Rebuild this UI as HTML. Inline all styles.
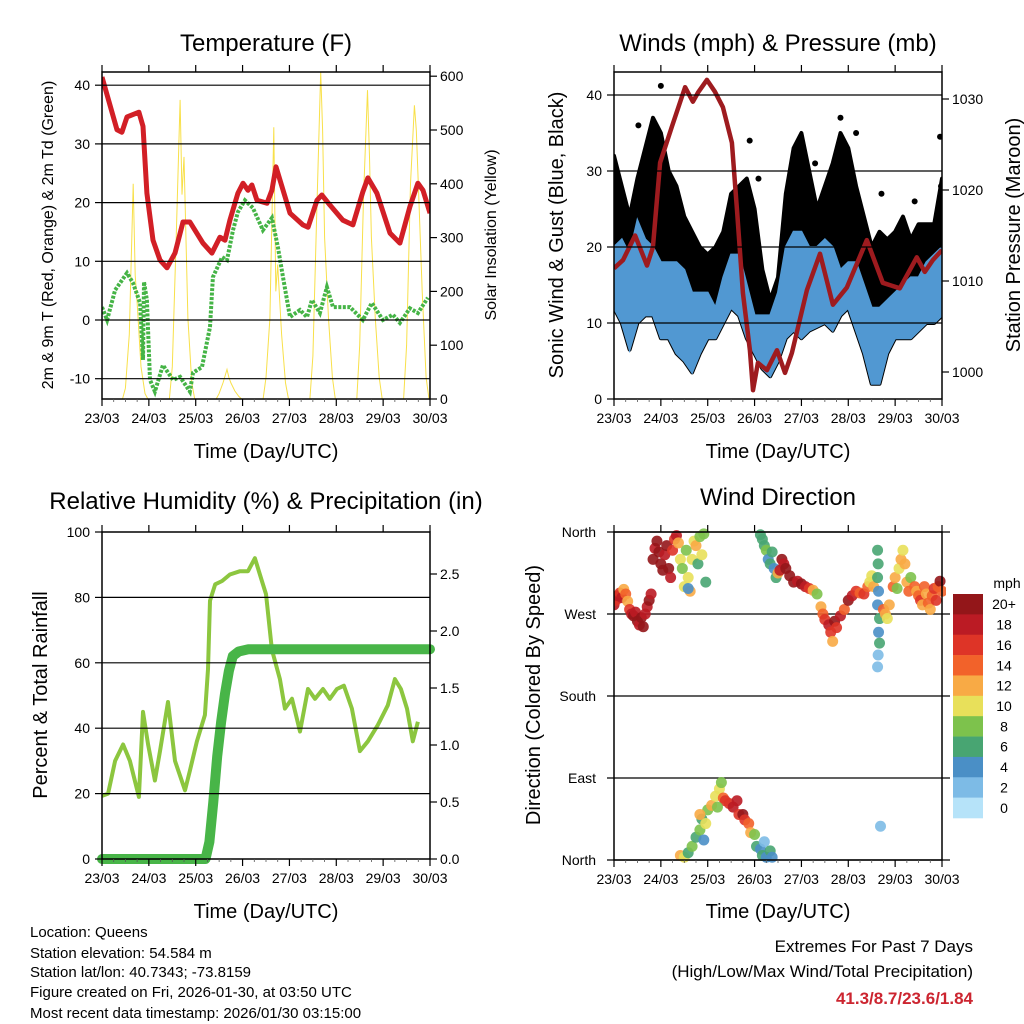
<!DOCTYPE html>
<html><head><meta charset="utf-8">
<style>
html,body{margin:0;padding:0;background:#fff;}
svg{display:block;font-family:"Liberation Sans",sans-serif;}
</style></head>
<body>
<svg id="chart" width="1024" height="1024" viewBox="0 0 1024 1024" xmlns="http://www.w3.org/2000/svg">
<rect width="1024" height="1024" fill="#fff"/>
<defs>
<clipPath id="c1"><rect x="102" y="72" width="328" height="327"/></clipPath>
<clipPath id="c2"><rect x="614" y="72" width="328" height="327"/></clipPath>
<clipPath id="c3"><rect x="102" y="532" width="328" height="327"/></clipPath>
<clipPath id="c4"><rect x="614" y="528" width="332" height="336"/></clipPath>
</defs>
<g id="g1"></g>
<g id="g2"></g>
<g id="g3"></g>
<g id="g4"></g>

<text x="266" y="51" font-size="24" text-anchor="middle">Temperature (F)</text>
<text x="778" y="51" font-size="24" text-anchor="middle">Winds (mph) &amp; Pressure (mb)</text>
<text x="266" y="509" font-size="24" text-anchor="middle">Relative Humidity (%) &amp; Precipitation (in)</text>
<text x="778" y="505" font-size="24" text-anchor="middle">Wind Direction</text>

<text x="266" y="458" font-size="20" text-anchor="middle">Time (Day/UTC)</text>
<text x="778" y="458" font-size="20" text-anchor="middle">Time (Day/UTC)</text>
<text x="266" y="918" font-size="20" text-anchor="middle">Time (Day/UTC)</text>
<text x="778" y="918" font-size="20" text-anchor="middle">Time (Day/UTC)</text>

<text transform="translate(53,235) rotate(-90)" font-size="16" text-anchor="middle">2m &amp; 9m T (Red, Orange) &amp; 2m Td (Green)</text>
<text transform="translate(496,235) rotate(-90)" font-size="16" text-anchor="middle">Solar Insolation (Yellow)</text>
<text transform="translate(563,235) rotate(-90)" font-size="20" text-anchor="middle">Sonic Wind &amp; Gust (Blue, Black)</text>
<text transform="translate(1020,235) rotate(-90)" font-size="20" text-anchor="middle">Station Pressure (Maroon)</text>
<text transform="translate(47,695) rotate(-90)" font-size="20" text-anchor="middle">Percent &amp; Total Rainfall</text>
<text transform="translate(540,695) rotate(-90)" font-size="20" text-anchor="middle">Direction (Colored By Speed)</text>

<g font-size="15">
<text x="30" y="937">Location: Queens</text>
<text x="30" y="958">Station elevation: 54.584 m</text>
<text x="30" y="977">Station lat/lon: 40.7343; -73.8159</text>
<text x="30" y="997">Figure created on Fri, 2026-01-30, at 03:50 UTC</text>
<text x="30" y="1018">Most recent data timestamp: 2026/01/30 03:15:00</text>
</g>
<g>
<text x="973" y="952" font-size="17" text-anchor="end">Extremes For Past 7 Days</text>
<text x="973" y="977" font-size="17" text-anchor="end">(High/Low/Max Wind/Total Precipitation)</text>
<text x="973" y="1004" font-size="17" font-weight="bold" fill="#cc2530" text-anchor="end">41.3/8.7/23.6/1.84</text>
</g>
</svg>
<script>
// ---------- data ----------
const dayLabels = ["23/03","24/03","25/03","26/03","27/03","28/03","29/03","30/03"];
const tempTicks = [40,30,20,10,0,-10];
const solarTicks = [600,500,400,300,200,100,0];
const windTicks = [40,30,20,10,0];
const presTicks = [1030,1020,1010,1000];
const rhTicks = [100,80,60,40,20,0];
const rainTicks = ["2.5","2.0","1.5","1.0","0.5","0.0"];
const dirTickLabels = ["North","West","South","East","North"];
const dirTickValues = [360,270,180,90,0];

const tempTimes = [0,7.7,10.2,12.8,18.9,21,23,26.1,29.7,33.3,37.4,41.5,45,51.7,56.3,60.4,63,65.5,69.6,72.2,74.8,76.8,79.4,84.5,87,89.1,96.3,102.9,105.5,110.1,112.6,116.7,123.4,128.5,133.6,136.2,140.8,147.5,152.6,157.7,161.8,164.4,168];
const tempRed = [41.4,32.4,32,34.6,35.4,33,21.6,13.6,10.2,8.9,11.4,16.7,16.7,13.1,11.4,14.1,13.6,17,21.6,23.3,22.1,23,20.4,19.9,22.1,26.1,18.2,16.2,15.8,20.4,21.3,19.6,17,16.2,21.8,24.2,21.6,14.8,13.1,19.3,23.3,22.1,18.2];

const dewTimes = [0,2.6,6.7,12.8,15.9,19.5,21,21.5,23,24.6,27.1,31.2,36.4,40,45,46.6,51.2,55.3,56.8,61.5,64,67.1,69.6,73.2,77.3,82.4,87,90.1,92.7,96.3,101.4,105,107.5,111.6,115.2,118.3,127,133.6,138.2,143.9,149,152.6,157.7,161.8,166.9];
const dewGreen = [2.2,0,5.1,8,6.3,2.9,-6.8,6.5,3.4,-10.2,-12.2,-7.7,-10.2,-9.7,-12.2,-9,-8,-1.2,7.3,10.7,10.2,15.3,18.4,20.4,19.1,15.3,17.4,12.4,7.3,0.5,1.7,0.5,3.4,1.2,5.6,2.2,2.2,0,2.9,0,0.9,-0.5,2,1.2,3.8];

const solarHours = [10.5,12,14,16,17,18,20,22,23.5];
const solarDay0 = [0,20,120,400,230,180,60,10,0];
const solarDay1 = [0,60,300,556,380,450,150,30,0];
const solarDay2 = [0,10,30,55,40,30,15,5,0];
const solarDay3 = [0,40,150,505,200,250,120,30,0];
const solarDay4 = [0,80,350,608,500,300,150,40,0];
const solarDay5 = [0,100,380,574,450,300,150,40,0];
const solarDay6 = [0,100,400,546,500,400,200,40,0];

const presTimes = [0,4.6,10.8,16.9,19.9,23.6,29.7,36.4,40.4,43,47.6,51.7,55.8,60.4,63,66,69.6,71.2,73.7,78.3,83.5,87.6,91.1,98.8,105.5,112.1,119.3,129.5,137.7,146.4,155.1,159.2,163.3,168];
const pressure = [1011.4,1012.3,1015,1011.7,1013.7,1023,1027,1031.3,1029.7,1030.7,1032.1,1030.8,1029.1,1025.2,1017.8,1008.7,1002.4,998,1001,1000.2,1002.4,999.9,1002.1,1009,1013,1007.4,1009.3,1014.5,1009.8,1009.2,1012.6,1011,1012.3,1013.4];

const windTimes = [0,4,8,12,16,20,24,28,32,36,40,44,48,52,56,60,64,68,72,76,80,84,88,92,96,100,104,108,112,116,120,124,128,132,136,140,144,148,152,156,160,164,168];
const sonicHigh = [20,21,19,23.5,21,20,18,18,18,17,14,14,14,12,16,19,19,15,11,11,11,14,20,22,22,20,20,21,20,17,18,18,15,12,12,13,14,15,16,16,18,19,20];
const sonicLow = [12,10,6.5,10,11,11,8,8,6,5,3.5,6,8,8,10,12,11,8,6,4,3,5,8,9,8,9,9.5,10,9,11,12,9,6,2,2,6,8,8,8,9,10,10,11];
const gustHigh = [32,28,24,29,33,37,35,30,28,24,22,20,19,20,22,27,28,29,25,17,13,16,27,33,35,30,25,28,31,35,33,28,24,20,22,21,22,24,21,23,23,23,29];
const gustOutTimes = [12.5,24,69.5,74,96,103,116,124,137,154,167,167.5];
const gustOutValues = [36,41.2,34,29,33,31,37,35,27,26,34.5,28];

const rhTimes = [0,3.1,6.7,10.8,14.3,18.9,21,23.6,27.1,29.7,33.8,37.4,42.5,45,48.6,52.7,54.3,55.3,58,61.5,65.5,70.7,74.8,78.3,81.9,84,87,91.1,93.7,97.3,101.4,105.5,109.1,113.2,116.7,120.3,123.9,128,132.1,136.2,141.3,146.4,150,153.1,156.2,159.2,161.8];
const rhValues = [19.3,20,30,35,30,19,45,35,24,33,48,30,21,27,36,44,58,79,84,85,87,88,88,92,85,81,64,55,46,49,39,52,49,52,49,52,53,46,33,36,41,47,55,52,46,36,42];
const rainTimes = [0,53,55,57,59,61,63,65,67,70,75,168];
const rainValues = [0,0,0.15,0.5,0.9,1.2,1.45,1.65,1.78,1.82,1.84,1.84];

const dirTimes  = [0,1,2,3,4,5,6,7, 8,9,10,11,12,13,14,15,16,17,18,19, 20,21,22,23,24,25,26,27,28,29,30,31,32,33, 34,35,36,37,38,39,40,41,42,43,44,45,46,47,38,
 34,36,38,40,42,44,45,47,48,50,52,54,55,56,57,59,61,63,64,66,67,69,70,72,73,75,76,77,78,80,81,53,46,44,
 75,76,77,78,79,80,81,82,83,84,85,86,87, 88,90,92,94,96,98,100,102,104, 106,107,108,110,111,112,113,114,116,118, 120,122,124,126,128,130, 131,132,133,
 135,135.3,135,135.5,135,136,135.5,136,135.3,135,136.5, 138,139,140,141, 143,144,145,146,147,148,149,150,151,152,
 154,155,156,157,158,159,160,161,162,163,164,165,166,167,168];
const dirValues = [280,285,290,293,288,297,292,284, 275,270,268,272,262,258,266,256,270,278,285,292, 330,342,350,338,325,318,335,345,320,310,340,352,356,348, 330,320,300,340,310,295,330,350,345,325,355,335,358,305,298,
 5,3,8,15,25,33,45,40,55,60,70,78,85,68,65,62,58,65,50,50,44,40,30,28,15,12,5,20,3,10,3,58,22,50,
 357,352,345,340,330,325,338,320,310,315,318,330,325, 320,312,305,306,303,300,298,296,292, 278,270,264,258,250,240,262,255,268,275, 285,290,295,293,292,300, 305,312,300,
 340,325,310,295,280,265,250,238,225,212,37, 275,270,265,280, 300,310,298,320,330,340,325,305,295,310,
 300,295,290,285,280,300,292,282,275,290,298,285,300,306,295];
const dirSpeeds = [18,17,19,16,18,13,15,12, 17,19,20,18,20,19,21,20,18,19,20,18, 20,19,21,20,21,20,18,20,21,19,17,16,18,13, 10,9,11,8,10,12,11,10,12,7,9,10,8,6,4,
 13,10,7,9,6,8,7,11,9,13,10,11,9,14,17,16,18,19,17,20,16,14,13,8,7,4,6,3,5,7,4,8,5,12,
 7,6,7,8,5,6,7,4,7,12,18,20,19, 20,21,20,19,20,18,16,12,8, 13,15,16,19,17,12,20,16,18,15, 20,19,17,14,16,15, 11,10,13,
 6,7,6,4,5,6,4,6,2,2,3, 14,12,11,13, 15,12,8,11,12,10,13,12,14,8,
 14,13,15,16,12,14,13,15,12,14,16,17,15,20,14];
const speedBinLabels = ["20+","18","16","14","12","10","8","6","4","2","0"];
const speedColors = ["#931619","#bb1b24","#de3427","#f2622a","#f8aa45","#e8e05a","#7dc24c","#48a572","#4a8fc6","#7dbbe6","#b6e3f9"];

// ---------- helpers ----------
const NS = "http://www.w3.org/2000/svg";
function el(tag, parent){ const e = document.createElementNS(NS, tag); parent.appendChild(e); return e; }
function line(parent,x1,y1,x2,y2,w,c){ const e=el('line',parent); e.setAttribute('x1',x1);e.setAttribute('y1',y1);e.setAttribute('x2',x2);e.setAttribute('y2',y2);e.setAttribute('stroke',c||'#000');e.setAttribute('stroke-width',w||1); return e; }
function txt(parent,x,y,s,anchor,size){ const e=el('text',parent); e.setAttribute('x',x);e.setAttribute('y',y);e.setAttribute('font-size',size||14);e.setAttribute('text-anchor',anchor||'middle'); e.textContent=s; return e; }
function polyPts(xs, ys, fx, fy){ return xs.map((t,i)=>fx(t).toFixed(1)+','+fy(ys[i]).toFixed(1)).join(' '); }

function frame(g, P, name){
  const r = el('rect', g);
  r.setAttribute('x',P.x0); r.setAttribute('y',P.y0); r.setAttribute('width',P.x1-P.x0); r.setAttribute('height',P.y1-P.y0);
  r.setAttribute('fill','none'); r.setAttribute('stroke','#000'); r.setAttribute('stroke-width','1.5');
  
  
  for(let d=0; d<8; d++){
    const x = P.x0 + d*(P.x1-P.x0)/7;
    const t1 = line(g,x,P.y1,x,P.y1+7,1.2);
    
    
    const t2 = line(g,x,P.y0,x,P.y0-7,1.2);
    
    
    if(d<7) for(let k=1;k<4;k++){ const xm=x+k*(P.x1-P.x0)/28; line(g,xm,P.y1,xm,P.y1+3,0.8,'#555'); }
    const lb = txt(g,x,P.y1+24,dayLabels[d],'middle',14);
    
    
  }
}
function leftTicks(g,P,vals,labels,fy,grid){
  vals.forEach((v,i)=>{
    const y=fy(v);
    const t=line(g,P.x0-7,y,P.x0,y,1.2);
    
    
    if(grid && y>P.y0+1 && y<P.y1-1){ const gl=line(g,P.x0,y,P.x1,y,1.2);
      
       }
    const lb=txt(g,P.x0-12,y+5,labels[i],'end',14);
    
    
  });
}
function rightTicks(g,P,vals,labels,fy){
  vals.forEach((v,i)=>{
    const y=fy(v);
    const t=line(g,P.x1,y,P.x1+7,y,1.2);
    
    
    const lb=txt(g,P.x1+10,y+5,labels[i],'start',14);
    
    
  });
}

// ---------- panel 1: temperature ----------
(function(){
  const g=document.getElementById('g1');
  const P={x0:102,x1:430,y0:72,y1:399};
  const fx=h=>P.x0+h/168*(P.x1-P.x0);
  const fy=v=>320-v*5.87;
  const sy=v=>P.y1-v*0.538;
  const data=el('g',g); data.setAttribute('clip-path','url(#c1)');
  const days=[solarDay0,solarDay1,solarDay2,solarDay3,solarDay4,solarDay5,solarDay6];
  days.forEach((arr,d)=>{
    const p=el('polyline',data);
    p.setAttribute('points', polyPts(solarHours.map(h=>h+24*d), arr, fx, sy));
    p.setAttribute('fill','none'); p.setAttribute('stroke','#f8e04a'); p.setAttribute('stroke-width','1');
    
    
  });
  const dew=el('polyline',data);
  dew.setAttribute('points',polyPts(dewTimes,dewGreen,fx,fy));
  dew.setAttribute('fill','none'); dew.setAttribute('stroke','#45b446'); dew.setAttribute('stroke-width','4'); dew.setAttribute('stroke-dasharray','3 1.5');
  
  
  const red=el('polyline',data);
  red.setAttribute('points',polyPts(tempTimes,tempRed,fx,fy));
  red.setAttribute('fill','none'); red.setAttribute('stroke','#d21f26'); red.setAttribute('stroke-width','5'); red.setAttribute('stroke-linejoin','round');
  
  
  leftTicks(g,P,tempTicks,tempTicks.map(String),fy,true);
  rightTicks(g,P,solarTicks,solarTicks.map(String),sy);
  frame(g,P,'temperature');
})();

// ---------- panel 2: winds ----------
(function(){
  const g=document.getElementById('g2');
  const P={x0:614,x1:942,y0:72,y1:399};
  const fx=h=>P.x0+h/168*(P.x1-P.x0);
  const fy=v=>P.y1-v*7.6;
  const py=p=>372-(p-1000)*9.1;
  const data=el('g',g); data.setAttribute('clip-path','url(#c2)');
  const gust=el('polygon',data);
  gust.setAttribute('points',polyPts(windTimes,gustHigh,fx,fy)+' '+polyPts(windTimes.slice().reverse(),sonicLow.slice().reverse(),fx,fy));
  gust.setAttribute('fill','#000'); gust.setAttribute('stroke','#000'); gust.setAttribute('stroke-width','4'); gust.setAttribute('stroke-linejoin','round');
  
  
  gustOutTimes.forEach((t,i)=>{ const c=el('circle',data); c.setAttribute('cx',fx(t)); c.setAttribute('cy',fy(gustOutValues[i])); c.setAttribute('r',3); c.setAttribute('fill','#000');
    
     });
  const sonic=el('polygon',data);
  sonic.setAttribute('points',polyPts(windTimes,sonicHigh,fx,fy)+' '+polyPts(windTimes.slice().reverse(),sonicLow.slice().reverse(),fx,fy));
  sonic.setAttribute('fill','#5198d2'); sonic.setAttribute('stroke','#5198d2'); sonic.setAttribute('stroke-width','2');
  
  
  const pr=el('polyline',data);
  pr.setAttribute('points',polyPts(presTimes,pressure,fx,py));
  pr.setAttribute('fill','none'); pr.setAttribute('stroke','#9e1b1f'); pr.setAttribute('stroke-width','4.5'); pr.setAttribute('stroke-linejoin','round');
  
  
  leftTicks(g,P,windTicks,windTicks.map(String),fy,true);
  rightTicks(g,P,presTicks,presTicks.map(String),py);
  frame(g,P,'winds');
})();

// ---------- panel 3: humidity ----------
(function(){
  const g=document.getElementById('g3');
  const P={x0:102,x1:430,y0:532,y1:859};
  const fx=h=>P.x0+h/168*(P.x1-P.x0);
  const fy=v=>P.y1-v*3.27;
  const ry=r=>P.y1-r*114;
  const data=el('g',g); data.setAttribute('clip-path','url(#c3)');
  const rh=el('polyline',data);
  rh.setAttribute('points',polyPts(rhTimes,rhValues,fx,fy));
  rh.setAttribute('fill','none'); rh.setAttribute('stroke','#8cc63f'); rh.setAttribute('stroke-width','4'); rh.setAttribute('stroke-linejoin','round');
  
  
  const rain=el('polyline',g);
  rain.setAttribute('points',polyPts(rainTimes,rainValues,fx,ry));
  rain.setAttribute('fill','none'); rain.setAttribute('stroke','#48b548'); rain.setAttribute('stroke-width','10'); rain.setAttribute('stroke-linecap','round'); rain.setAttribute('stroke-linejoin','round');
  
  
  leftTicks(g,P,rhTicks,rhTicks.map(String),fy,true);
  rightTicks(g,P,rainTicks.map(Number),rainTicks,ry);
  frame(g,P,'humidity');
})();

// ---------- panel 4: wind direction ----------
(function(){
  const g=document.getElementById('g4');
  const P={x0:614,x1:942,y0:532,y1:860};
  const fx=h=>P.x0+h/168*(P.x1-P.x0);
  const fy=d=>P.y1-d*(P.y1-P.y0)/360;
  dirTickValues.forEach((v,i)=>{
    const y=fy(v);
    const gl=line(g,P.x0-7,y,P.x1+8,y,1.2);
    
    
    const lb=txt(g,P.x0-18,y+5,dirTickLabels[i],'end',14);
    
    
  });
  const data=el('g',g); data.setAttribute('clip-path','url(#c4)');
  dirTimes.forEach((t,i)=>{
    const s=dirSpeeds[i];
    const bin=Math.min(10,Math.floor(s/2));
    const c=el('circle',data);
    c.setAttribute('cx',fx(t)); c.setAttribute('cy',fy(dirValues[i])); c.setAttribute('r',5.5);
    c.setAttribute('fill',speedColors[10-bin]);
    c.setAttribute('fill-opacity','0.9');
    
    
  });
  frame(g,P,'direction');
  const lg=el('g',g);
  
  
  const bh=(818-594)/11;
  speedColors.forEach((c,i)=>{
    const r=el('rect',lg); r.setAttribute('x',953); r.setAttribute('y',594+i*bh); r.setAttribute('width',30); r.setAttribute('height',bh+0.3); r.setAttribute('fill',c);
    
    
    const lb=txt(lg,1004,594+i*bh+bh/2+5,speedBinLabels[i],'middle',14);
    
    
  });
  const u=txt(lg,1007,588,'mph','middle',14);
  
  
})();
</script>
</body></html>
